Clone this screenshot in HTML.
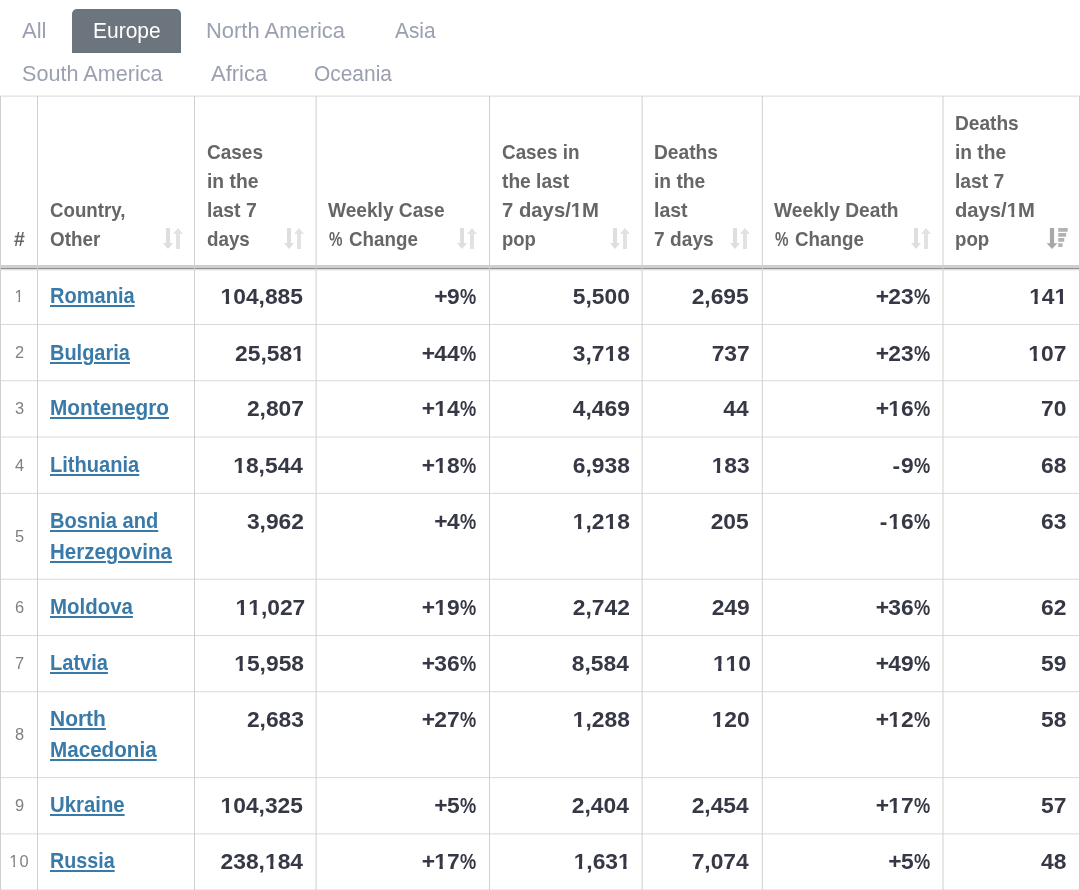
<!DOCTYPE html>
<html lang="en"><head><meta charset="utf-8"><title>Europe - last 7 days</title>
<style>
html,body{margin:0;padding:0;background:#fff;}
body{width:1080px;height:890px;position:relative;overflow:hidden;font-family:"Liberation Sans", sans-serif;}
.t{position:absolute;white-space:nowrap;font-weight:700;font-family:"Liberation Sans", sans-serif;transform-origin:0 0;}
.u{text-decoration:underline;text-decoration-thickness:2px;text-underline-offset:1.5px;text-decoration-skip-ink:auto;}
.grid{position:absolute;left:0;top:0;}
.wrap{position:absolute;left:0;top:0;width:1080px;height:890px;will-change:transform;}
.tab{position:absolute;left:71.75px;top:8.75px;width:109.25px;height:44.25px;background:#6c757d;border-radius:5px 5px 0 0;}
.si{position:absolute;}
i{display:inline-block;font-style:normal;}
.o0{clip-path:polygon(-.1em -.3em,.7em -.3em,.7em 0.533em,0.377em 0.533em,0.377em 1.4em,0.227em 1.4em,0.227em 0.533em,-.1em 0.533em);}
.o1{clip-path:polygon(-.1em -.3em,.7em -.3em,.7em 0.554em,0.346em 0.554em,0.346em 1.4em,0.245em 1.4em,0.245em 0.554em,-.1em 0.554em);}
.o2{clip-path:polygon(-.1em -.3em,.7em -.3em,.7em 0.533em,0.377em 0.533em,0.377em 1.4em,0.227em 1.4em,0.227em 0.533em,-.1em 0.533em);}
.pc{display:inline-block;letter-spacing:0;transform:scaleX(0.8);transform-origin:100% 50%;}
</style></head><body>
<div class="wrap">
<div class="tab"></div>
<svg class="grid" width="1080" height="890" viewBox="0 0 1080 890" shape-rendering="auto">
<defs><linearGradient id="sh" x1="0" y1="0" x2="0" y2="1"><stop offset="0" stop-color="#000" stop-opacity=".16"/><stop offset="1" stop-color="#000" stop-opacity="0"/></linearGradient></defs>
<rect x="0" y="95.6" width="1080" height="1" fill="#d9d9d9"/>
<rect x="0" y="324" width="1080" height="1" fill="#d9d9d9"/>
<rect x="0" y="380.28" width="1080" height="1" fill="#d9d9d9"/>
<rect x="0" y="436.56" width="1080" height="1" fill="#d9d9d9"/>
<rect x="0" y="492.84" width="1080" height="1" fill="#d9d9d9"/>
<rect x="0" y="578.69" width="1080" height="1" fill="#d9d9d9"/>
<rect x="0" y="634.97" width="1080" height="1" fill="#d9d9d9"/>
<rect x="0" y="691.25" width="1080" height="1" fill="#d9d9d9"/>
<rect x="0" y="777.1" width="1080" height="1" fill="#d9d9d9"/>
<rect x="0" y="833.38" width="1080" height="1" fill="#d9d9d9"/>
<rect x="0" y="889.5" width="1080" height="1" fill="#d9d9d9"/>
<rect x="1" y="265" width="1079" height="3" fill="#cfcfcf"/>
<rect x="1" y="268" width="1079" height="1" fill="#8f8f8f"/>
<rect x="1" y="269" width="1079" height="2.4" fill="url(#sh)"/>
<rect x="0" y="96" width="1" height="794" fill="#cfcfcf"/>
<rect x="37" y="96" width="1" height="794" fill="#cfcfcf"/>
<rect x="194" y="96" width="1" height="794" fill="#cfcfcf"/>
<rect x="315.6" y="96" width="1" height="794" fill="#cfcfcf"/>
<rect x="489" y="96" width="1" height="794" fill="#cfcfcf"/>
<rect x="641.6" y="96" width="1" height="794" fill="#cfcfcf"/>
<rect x="761.8" y="96" width="1" height="794" fill="#cfcfcf"/>
<rect x="942.5" y="96" width="1" height="794" fill="#cfcfcf"/>
<rect x="1079" y="96" width="1" height="794" fill="#cfcfcf"/>
</svg>
<svg class="si" style="left:162.6px;top:228px" width="20" height="21" viewBox="0 0 20 21"><path fill="#dedede" d="M3 0h4v15h3l-5 6-5-6h3z"/><path fill="#e2e2e2" d="M15 0l5 6h-3v15h-4V6h-3z"/></svg>
<svg class="si" style="left:284.3px;top:228px" width="20" height="21" viewBox="0 0 20 21"><path fill="#dedede" d="M3 0h4v15h3l-5 6-5-6h3z"/><path fill="#e2e2e2" d="M15 0l5 6h-3v15h-4V6h-3z"/></svg>
<svg class="si" style="left:457.2px;top:228px" width="20" height="21" viewBox="0 0 20 21"><path fill="#dedede" d="M3 0h4v15h3l-5 6-5-6h3z"/><path fill="#e2e2e2" d="M15 0l5 6h-3v15h-4V6h-3z"/></svg>
<svg class="si" style="left:610px;top:228px" width="20" height="21" viewBox="0 0 20 21"><path fill="#dedede" d="M3 0h4v15h3l-5 6-5-6h3z"/><path fill="#e2e2e2" d="M15 0l5 6h-3v15h-4V6h-3z"/></svg>
<svg class="si" style="left:730px;top:228px" width="20" height="21" viewBox="0 0 20 21"><path fill="#dedede" d="M3 0h4v15h3l-5 6-5-6h3z"/><path fill="#e2e2e2" d="M15 0l5 6h-3v15h-4V6h-3z"/></svg>
<svg class="si" style="left:910.5px;top:228px" width="20" height="21" viewBox="0 0 20 21"><path fill="#dedede" d="M3 0h4v15h3l-5 6-5-6h3z"/><path fill="#e2e2e2" d="M15 0l5 6h-3v15h-4V6h-3z"/></svg>
<svg class="si" style="left:1046px;top:228px" width="24" height="22" viewBox="0 0 24 22"><path fill="#a8a8a8" d="M3.900 0h4.200v15.300h3.300l-5.400 5.700-5.400-5.700h3.300z"/><path fill="#b3b3b3" d="M12.200 0h9.500v3.700h-9.500zM12.200 5h7.900v3.700h-7.900zM12.200 10.100h6v3.700h-6zM12.200 15.200h4.400v3.700h-4.400z"/></svg>
<span class="t" style="left:22.00px;top:20.00px;font-size:22.4px;line-height:22.4px;color:#9a9fb1;font-weight:400;transform:scaleX(0.9829);">All</span>
<span class="t" style="left:92.81px;top:20.00px;font-size:22.4px;line-height:22.4px;color:#ffffff;font-weight:400;transform:scaleX(0.9364);">Europe</span>
<span class="t" style="left:206.02px;top:20.00px;font-size:22.4px;line-height:22.4px;color:#9a9fb1;font-weight:400;transform:scaleX(0.9798);">North America</span>
<span class="t" style="left:394.50px;top:20.00px;font-size:22.4px;line-height:22.4px;color:#9a9fb1;font-weight:400;transform:scaleX(0.9296);">Asia</span>
<span class="t" style="left:21.63px;top:63.00px;font-size:22.4px;line-height:22.4px;color:#9a9fb1;font-weight:400;transform:scaleX(0.9652);">South America</span>
<span class="t" style="left:210.75px;top:63.00px;font-size:22.4px;line-height:22.4px;color:#9a9fb1;font-weight:400;transform:scaleX(0.9822);">Africa</span>
<span class="t" style="left:314.07px;top:63.00px;font-size:22.4px;line-height:22.4px;color:#9a9fb1;font-weight:400;transform:scaleX(0.9344);">Oceania</span>
<span class="t" style="left:13.50px;top:229.00px;font-size:20.4px;line-height:20.4px;color:#666666;transform:scaleX(0.9583);">#</span>
<span class="t" style="left:49.60px;top:200.00px;font-size:20.4px;line-height:20.4px;color:#666666;transform:scaleX(0.9162);">Country,</span>
<span class="t" style="left:49.60px;top:229.00px;font-size:20.4px;line-height:20.4px;color:#666666;transform:scaleX(0.9238);">Other</span>
<span class="t" style="left:206.50px;top:142.00px;font-size:20.4px;line-height:20.4px;color:#666666;transform:scaleX(0.9323);">Cases</span>
<span class="t" style="left:206.50px;top:171.00px;font-size:20.4px;line-height:20.4px;color:#666666;transform:scaleX(0.9457);">in the</span>
<span class="t" style="left:206.50px;top:200.00px;font-size:20.4px;line-height:20.4px;color:#666666;transform:scaleX(0.9536);">last 7</span>
<span class="t" style="left:206.50px;top:229.00px;font-size:20.4px;line-height:20.4px;color:#666666;transform:scaleX(0.9212);">days</span>
<span class="t" style="left:328.20px;top:200.00px;font-size:20.4px;line-height:20.4px;color:#666666;transform:scaleX(0.9373);">Weekly Case</span>
<span class="t" style="left:501.50px;top:142.00px;font-size:20.4px;line-height:20.4px;color:#666666;transform:scaleX(0.9255);">Cases in</span>
<span class="t" style="left:501.50px;top:171.00px;font-size:20.4px;line-height:20.4px;color:#666666;transform:scaleX(0.9400);">the last</span>
<span class="t" style="left:501.50px;top:200.00px;font-size:20.4px;line-height:20.4px;color:#666666;transform:scaleX(0.9949);">7 days/<i class="o0">1</i>M</span>
<span class="t" style="left:501.50px;top:229.00px;font-size:20.4px;line-height:20.4px;color:#666666;transform:scaleX(0.9076);">pop</span>
<span class="t" style="left:654.00px;top:142.00px;font-size:20.4px;line-height:20.4px;color:#666666;transform:scaleX(0.9401);">Deaths</span>
<span class="t" style="left:654.00px;top:171.00px;font-size:20.4px;line-height:20.4px;color:#666666;transform:scaleX(0.9439);">in the</span>
<span class="t" style="left:654.00px;top:200.00px;font-size:20.4px;line-height:20.4px;color:#666666;transform:scaleX(0.9563);">last</span>
<span class="t" style="left:654.00px;top:229.00px;font-size:20.4px;line-height:20.4px;color:#666666;transform:scaleX(0.9407);">7 days</span>
<span class="t" style="left:774.40px;top:200.00px;font-size:20.4px;line-height:20.4px;color:#666666;transform:scaleX(0.9418);">Weekly Death</span>
<span class="t" style="left:955.20px;top:113.00px;font-size:20.4px;line-height:20.4px;color:#666666;transform:scaleX(0.9372);">Deaths</span>
<span class="t" style="left:955.20px;top:142.00px;font-size:20.4px;line-height:20.4px;color:#666666;transform:scaleX(0.9402);">in the</span>
<span class="t" style="left:955.20px;top:171.00px;font-size:20.4px;line-height:20.4px;color:#666666;transform:scaleX(0.9459);">last 7</span>
<span class="t" style="left:955.20px;top:200.00px;font-size:20.4px;line-height:20.4px;color:#666666;transform:scaleX(0.9914);">days/<i class="o0">1</i>M</span>
<span class="t" style="left:955.20px;top:229.00px;font-size:20.4px;line-height:20.4px;color:#666666;transform:scaleX(0.9157);">pop</span>
<span class="t" style="left:329.20px;top:229.00px;font-size:20.4px;line-height:20.4px;color:#666666;transform:scaleX(0.7444);">%</span>
<span class="t" style="left:349.10px;top:229.00px;font-size:20.4px;line-height:20.4px;color:#666666;transform:scaleX(0.9203);">Change</span>
<span class="t" style="left:775.40px;top:229.00px;font-size:20.4px;line-height:20.4px;color:#666666;transform:scaleX(0.7444);">%</span>
<span class="t" style="left:795.30px;top:229.00px;font-size:20.4px;line-height:20.4px;color:#666666;transform:scaleX(0.9203);">Change</span>
<span class="t" style="left:14.40px;top:288.00px;font-size:16.4px;line-height:16.4px;color:#808080;font-weight:400;"><i class="o1">1</i></span>
<span class="t u" style="left:49.91px;top:285.00px;font-size:22.6px;line-height:22.6px;color:#3a7aa8;transform:scaleX(0.8867);">Romania</span>
<span class="t" style="left:220.57px;top:285.00px;font-size:22.8px;line-height:22.8px;color:#363945;"><i class="o2">1</i>04,885</span>
<span class="t" style="left:434.31px;top:285.00px;font-size:22.8px;line-height:22.8px;color:#363945;letter-spacing:0.000px;"><span style="letter-spacing:-0.7px">+</span>9<span class="pc" style="margin-left:-4.05px">%</span></span>
<span class="t" style="left:572.83px;top:285.00px;font-size:22.8px;line-height:22.8px;color:#363945;">5,500</span>
<span class="t" style="left:691.63px;top:285.00px;font-size:22.8px;line-height:22.8px;color:#363945;">2,695</span>
<span class="t" style="left:875.63px;top:285.00px;font-size:22.8px;line-height:22.8px;color:#363945;letter-spacing:0.000px;"><span style="letter-spacing:-0.7px">+</span>23<span class="pc" style="margin-left:-4.05px">%</span></span>
<span class="t" style="left:1029.14px;top:285.00px;font-size:22.8px;line-height:22.8px;color:#363945;"><i class="o2">1</i>4<i class="o2">1</i></span>
<span class="t" style="left:14.90px;top:344.00px;font-size:16.4px;line-height:16.4px;color:#808080;font-weight:400;">2</span>
<span class="t u" style="left:49.92px;top:342.00px;font-size:22.6px;line-height:22.6px;color:#3a7aa8;transform:scaleX(0.8839);">Bulgaria</span>
<span class="t" style="left:235.05px;top:342.00px;font-size:22.8px;line-height:22.8px;color:#363945;">25,58<i class="o2">1</i></span>
<span class="t" style="left:421.63px;top:342.00px;font-size:22.8px;line-height:22.8px;color:#363945;letter-spacing:0.000px;"><span style="letter-spacing:-0.7px">+</span>44<span class="pc" style="margin-left:-4.05px">%</span></span>
<span class="t" style="left:572.83px;top:342.00px;font-size:22.8px;line-height:22.8px;color:#363945;">3,7<i class="o2">1</i>8</span>
<span class="t" style="left:711.64px;top:342.00px;font-size:22.8px;line-height:22.8px;color:#363945;">737</span>
<span class="t" style="left:875.63px;top:342.00px;font-size:22.8px;line-height:22.8px;color:#363945;letter-spacing:0.000px;"><span style="letter-spacing:-0.7px">+</span>23<span class="pc" style="margin-left:-4.05px">%</span></span>
<span class="t" style="left:1028.34px;top:342.00px;font-size:22.8px;line-height:22.8px;color:#363945;"><i class="o2">1</i>07</span>
<span class="t" style="left:14.90px;top:400.00px;font-size:16.4px;line-height:16.4px;color:#808080;font-weight:400;">3</span>
<span class="t u" style="left:49.88px;top:397.00px;font-size:22.6px;line-height:22.6px;color:#3a7aa8;transform:scaleX(0.9202);">Montenegro</span>
<span class="t" style="left:246.93px;top:397.00px;font-size:22.8px;line-height:22.8px;color:#363945;">2,807</span>
<span class="t" style="left:421.63px;top:397.00px;font-size:22.8px;line-height:22.8px;color:#363945;letter-spacing:0.000px;"><span style="letter-spacing:-0.7px">+</span><i class="o2">1</i>4<span class="pc" style="margin-left:-4.05px">%</span></span>
<span class="t" style="left:572.83px;top:397.00px;font-size:22.8px;line-height:22.8px;color:#363945;">4,469</span>
<span class="t" style="left:723.32px;top:397.00px;font-size:22.8px;line-height:22.8px;color:#363945;">44</span>
<span class="t" style="left:875.63px;top:397.00px;font-size:22.8px;line-height:22.8px;color:#363945;letter-spacing:0.000px;"><span style="letter-spacing:-0.7px">+</span><i class="o2">1</i>6<span class="pc" style="margin-left:-4.05px">%</span></span>
<span class="t" style="left:1041.02px;top:397.00px;font-size:22.8px;line-height:22.8px;color:#363945;">70</span>
<span class="t" style="left:14.90px;top:457.00px;font-size:16.4px;line-height:16.4px;color:#808080;font-weight:400;">4</span>
<span class="t u" style="left:49.91px;top:454.00px;font-size:22.6px;line-height:22.6px;color:#3a7aa8;transform:scaleX(0.8883);">Lithuania</span>
<span class="t" style="left:233.25px;top:454.00px;font-size:22.8px;line-height:22.8px;color:#363945;"><i class="o2">1</i>8,544</span>
<span class="t" style="left:421.63px;top:454.00px;font-size:22.8px;line-height:22.8px;color:#363945;letter-spacing:0.000px;"><span style="letter-spacing:-0.7px">+</span><i class="o2">1</i>8<span class="pc" style="margin-left:-4.05px">%</span></span>
<span class="t" style="left:572.83px;top:454.00px;font-size:22.8px;line-height:22.8px;color:#363945;">6,938</span>
<span class="t" style="left:711.64px;top:454.00px;font-size:22.8px;line-height:22.8px;color:#363945;"><i class="o2">1</i>83</span>
<span class="t" style="left:892.43px;top:454.00px;font-size:22.8px;line-height:22.8px;color:#363945;letter-spacing:0.000px;"><span style="letter-spacing:0.9px">-</span>9<span class="pc" style="margin-left:-4.05px">%</span></span>
<span class="t" style="left:1041.02px;top:454.00px;font-size:22.8px;line-height:22.8px;color:#363945;">68</span>
<span class="t" style="left:14.90px;top:528.00px;font-size:16.4px;line-height:16.4px;color:#808080;font-weight:400;">5</span>
<span class="t u" style="left:49.91px;top:510.00px;font-size:22.6px;line-height:22.6px;color:#3a7aa8;transform:scaleX(0.8885);">Bosnia and</span>
<span class="t u" style="left:49.89px;top:541.00px;font-size:22.6px;line-height:22.6px;color:#3a7aa8;transform:scaleX(0.9067);">Herzegovina</span>
<span class="t" style="left:246.93px;top:510.00px;font-size:22.8px;line-height:22.8px;color:#363945;">3,962</span>
<span class="t" style="left:434.31px;top:510.00px;font-size:22.8px;line-height:22.8px;color:#363945;letter-spacing:0.000px;"><span style="letter-spacing:-0.7px">+</span>4<span class="pc" style="margin-left:-4.05px">%</span></span>
<span class="t" style="left:572.83px;top:510.00px;font-size:22.8px;line-height:22.8px;color:#363945;"><i class="o2">1</i>,2<i class="o2">1</i>8</span>
<span class="t" style="left:710.64px;top:510.00px;font-size:22.8px;line-height:22.8px;color:#363945;">205</span>
<span class="t" style="left:879.75px;top:510.00px;font-size:22.8px;line-height:22.8px;color:#363945;letter-spacing:0.000px;"><span style="letter-spacing:0.9px">-</span><i class="o2">1</i>6<span class="pc" style="margin-left:-4.05px">%</span></span>
<span class="t" style="left:1041.02px;top:510.00px;font-size:22.8px;line-height:22.8px;color:#363945;">63</span>
<span class="t" style="left:14.90px;top:599.00px;font-size:16.4px;line-height:16.4px;color:#808080;font-weight:400;">6</span>
<span class="t u" style="left:49.90px;top:596.00px;font-size:22.6px;line-height:22.6px;color:#3a7aa8;transform:scaleX(0.9048);">Moldova</span>
<span class="t" style="left:235.51px;top:596.00px;font-size:22.8px;line-height:22.8px;color:#363945;"><i class="o2">1</i><i class="o2">1</i>,027</span>
<span class="t" style="left:421.63px;top:596.00px;font-size:22.8px;line-height:22.8px;color:#363945;letter-spacing:0.000px;"><span style="letter-spacing:-0.7px">+</span><i class="o2">1</i>9<span class="pc" style="margin-left:-4.05px">%</span></span>
<span class="t" style="left:572.83px;top:596.00px;font-size:22.8px;line-height:22.8px;color:#363945;">2,742</span>
<span class="t" style="left:711.64px;top:596.00px;font-size:22.8px;line-height:22.8px;color:#363945;">249</span>
<span class="t" style="left:875.63px;top:596.00px;font-size:22.8px;line-height:22.8px;color:#363945;letter-spacing:0.000px;"><span style="letter-spacing:-0.7px">+</span>36<span class="pc" style="margin-left:-4.05px">%</span></span>
<span class="t" style="left:1041.02px;top:596.00px;font-size:22.8px;line-height:22.8px;color:#363945;">62</span>
<span class="t" style="left:14.90px;top:655.00px;font-size:16.4px;line-height:16.4px;color:#808080;font-weight:400;">7</span>
<span class="t u" style="left:49.91px;top:652.00px;font-size:22.6px;line-height:22.6px;color:#3a7aa8;transform:scaleX(0.8867);">Latvia</span>
<span class="t" style="left:234.25px;top:652.00px;font-size:22.8px;line-height:22.8px;color:#363945;"><i class="o2">1</i>5,958</span>
<span class="t" style="left:421.63px;top:652.00px;font-size:22.8px;line-height:22.8px;color:#363945;letter-spacing:0.000px;"><span style="letter-spacing:-0.7px">+</span>36<span class="pc" style="margin-left:-4.05px">%</span></span>
<span class="t" style="left:571.83px;top:652.00px;font-size:22.8px;line-height:22.8px;color:#363945;">8,584</span>
<span class="t" style="left:712.90px;top:652.00px;font-size:22.8px;line-height:22.8px;color:#363945;"><i class="o2">1</i><i class="o2">1</i>0</span>
<span class="t" style="left:875.63px;top:652.00px;font-size:22.8px;line-height:22.8px;color:#363945;letter-spacing:0.000px;"><span style="letter-spacing:-0.7px">+</span>49<span class="pc" style="margin-left:-4.05px">%</span></span>
<span class="t" style="left:1041.02px;top:652.00px;font-size:22.8px;line-height:22.8px;color:#363945;">59</span>
<span class="t" style="left:14.90px;top:726.00px;font-size:16.4px;line-height:16.4px;color:#808080;font-weight:400;">8</span>
<span class="t u" style="left:49.87px;top:708.00px;font-size:22.6px;line-height:22.6px;color:#3a7aa8;transform:scaleX(0.9275);">North</span>
<span class="t u" style="left:49.89px;top:739.00px;font-size:22.6px;line-height:22.6px;color:#3a7aa8;transform:scaleX(0.9131);">Macedonia</span>
<span class="t" style="left:246.93px;top:708.00px;font-size:22.8px;line-height:22.8px;color:#363945;">2,683</span>
<span class="t" style="left:421.63px;top:708.00px;font-size:22.8px;line-height:22.8px;color:#363945;letter-spacing:0.000px;"><span style="letter-spacing:-0.7px">+</span>27<span class="pc" style="margin-left:-4.05px">%</span></span>
<span class="t" style="left:572.83px;top:708.00px;font-size:22.8px;line-height:22.8px;color:#363945;"><i class="o2">1</i>,288</span>
<span class="t" style="left:711.64px;top:708.00px;font-size:22.8px;line-height:22.8px;color:#363945;"><i class="o2">1</i>20</span>
<span class="t" style="left:875.63px;top:708.00px;font-size:22.8px;line-height:22.8px;color:#363945;letter-spacing:0.000px;"><span style="letter-spacing:-0.7px">+</span><i class="o2">1</i>2<span class="pc" style="margin-left:-4.05px">%</span></span>
<span class="t" style="left:1041.02px;top:708.00px;font-size:22.8px;line-height:22.8px;color:#363945;">58</span>
<span class="t" style="left:14.90px;top:797.00px;font-size:16.4px;line-height:16.4px;color:#808080;font-weight:400;">9</span>
<span class="t u" style="left:49.90px;top:794.00px;font-size:22.6px;line-height:22.6px;color:#3a7aa8;transform:scaleX(0.9002);">Ukraine</span>
<span class="t" style="left:220.57px;top:794.00px;font-size:22.8px;line-height:22.8px;color:#363945;"><i class="o2">1</i>04,325</span>
<span class="t" style="left:434.31px;top:794.00px;font-size:22.8px;line-height:22.8px;color:#363945;letter-spacing:0.000px;"><span style="letter-spacing:-0.7px">+</span>5<span class="pc" style="margin-left:-4.05px">%</span></span>
<span class="t" style="left:571.83px;top:794.00px;font-size:22.8px;line-height:22.8px;color:#363945;">2,404</span>
<span class="t" style="left:691.63px;top:794.00px;font-size:22.8px;line-height:22.8px;color:#363945;">2,454</span>
<span class="t" style="left:875.63px;top:794.00px;font-size:22.8px;line-height:22.8px;color:#363945;letter-spacing:0.000px;"><span style="letter-spacing:-0.7px">+</span><i class="o2">1</i>7<span class="pc" style="margin-left:-4.05px">%</span></span>
<span class="t" style="left:1041.02px;top:794.00px;font-size:22.8px;line-height:22.8px;color:#363945;">57</span>
<span class="t" style="left:9.34px;top:853.00px;font-size:16.4px;line-height:16.4px;color:#808080;font-weight:400;letter-spacing:1.000px;"><i class="o1">1</i>0</span>
<span class="t u" style="left:49.93px;top:850.00px;font-size:22.6px;line-height:22.6px;color:#3a7aa8;transform:scaleX(0.8718);">Russia</span>
<span class="t" style="left:220.57px;top:850.00px;font-size:22.8px;line-height:22.8px;color:#363945;">238,<i class="o2">1</i>84</span>
<span class="t" style="left:421.63px;top:850.00px;font-size:22.8px;line-height:22.8px;color:#363945;letter-spacing:0.000px;"><span style="letter-spacing:-0.7px">+</span><i class="o2">1</i>7<span class="pc" style="margin-left:-4.05px">%</span></span>
<span class="t" style="left:573.63px;top:850.00px;font-size:22.8px;line-height:22.8px;color:#363945;"><i class="o2">1</i>,63<i class="o2">1</i></span>
<span class="t" style="left:691.63px;top:850.00px;font-size:22.8px;line-height:22.8px;color:#363945;">7,074</span>
<span class="t" style="left:888.31px;top:850.00px;font-size:22.8px;line-height:22.8px;color:#363945;letter-spacing:0.000px;"><span style="letter-spacing:-0.7px">+</span>5<span class="pc" style="margin-left:-4.05px">%</span></span>
<span class="t" style="left:1041.02px;top:850.00px;font-size:22.8px;line-height:22.8px;color:#363945;">48</span>
</div>
</body></html>
